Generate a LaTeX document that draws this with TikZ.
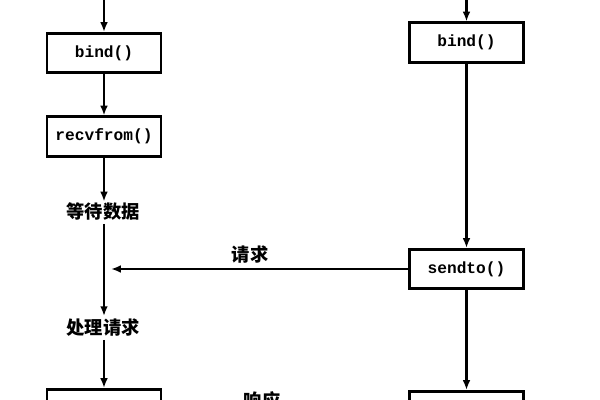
\documentclass[tikz,border=0pt]{standalone}
\usepackage{fontspec}
\setmonofont{Liberation Mono}
\newfontfamily\cjk{Noto Sans CJK SC}
\usetikzlibrary{arrows.meta, positioning}

\begin{document}
\begin{tikzpicture}[
  x=0.025cm, y=-0.025cm,
  func/.style={
    rectangle, draw, line width=2pt,
    minimum width=2.85cm, minimum height=0.98cm,
    font=\ttfamily\bfseries\fontsize{11.5}{12}\selectfont,
  },
  state/.style={font=\cjk\bfseries\fontsize{13}{14}\selectfont, inner sep=2pt},
  arrow/.style={-{Latex[length=7pt, width=5.5pt]}, line width=2pt},
]
\useasboundingbox (0,0) rectangle (600,400);

% Server (left)
\node[func] (lbind) at (104,53) {bind()};
\node[func] (lrecv) at (104,136.5) {recvfrom()};
\node[state] (lwait) at (103,212) {等待数据};
\node[state] (lproc) at (103,328) {处理请求};
\node[func] (lsend) at (104,409) {sendto()};

% Client (right)
\node[func] (rbind) at (466.5,42.5) {bind()};
\node[func] (rsend) at (466.5,269) {sendto()};
\node[func] (rrecv) at (466.5,411) {recvfrom()};

% Free ends
\coordinate (ltop) at (104,-5);
\coordinate (rtop) at (466.5,-5);
\coordinate (lreq) at (111,269);

% Arrows
\draw[arrow] (ltop) -- (lbind.north);
\draw[arrow] (lbind) -- (lrecv);
\draw[arrow] (lrecv.south) -- ([yshift=-1pt]lwait.north -| lrecv.south);
\draw[arrow] (lwait.south -| lrecv.south) -- (lproc.north -| lrecv.south);
\draw[arrow] (lproc.south -| lrecv.south) -- (lsend.north);
\draw[arrow] (rtop) -- (rbind.north);
\draw[arrow] (rbind) -- (rsend);
\draw[arrow] (rsend) -- (rrecv);

% Messages
\draw[arrow] (rsend.west) -- (lreq);
\node[state] (req) at (250,255) {请求};
\node[state] (resp) at (262,401) {响应};

\end{tikzpicture}
\end{document}
